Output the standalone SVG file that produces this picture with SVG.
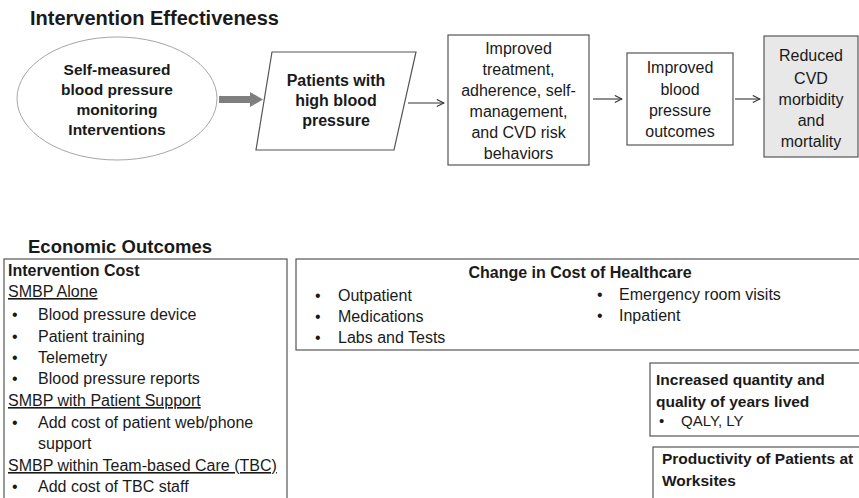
<svg xmlns="http://www.w3.org/2000/svg" width="859" height="498" viewBox="0 0 859 498">
<defs>
<marker id="open" viewBox="0 0 10 10" refX="9" refY="5" markerWidth="9" markerHeight="9" markerUnits="userSpaceOnUse" orient="auto">
<polyline points="1,1 9,5 1,9" fill="none" stroke="#333" stroke-width="1.2"/>
</marker>
</defs>
<style>
text{font-family:"Liberation Sans",Arial,sans-serif;fill:#1a1a1a;font-size:16px}
.b{font-weight:bold}
.c{text-anchor:middle}
.title{font-weight:bold;font-size:20px}
.box{fill:#fff;stroke:#555;stroke-width:1.2}
.conn{stroke:#333;stroke-width:1.1;fill:none}
</style>
<rect width="859" height="498" fill="#fff"/>
<text class="title" x="30" y="25">Intervention Effectiveness</text>
<text class="title" x="28" y="253" style="font-size:18.5px">Economic Outcomes</text>

<g id="connectors">
<polygon points="219,96 250,96 250,92 263,99.5 250,107 250,103 219,103" fill="#7f7f7f"/>
<line class="conn" x1="408" y1="103" x2="444" y2="103" marker-end="url(#open)"/>
<line class="conn" x1="593" y1="99" x2="622" y2="99" marker-end="url(#open)"/>
<line class="conn" x1="735" y1="99" x2="760" y2="99" marker-end="url(#open)"/>
</g>

<g id="smbp">
<ellipse cx="117" cy="98.5" rx="100" ry="61.5" fill="#fff" stroke="#a6a6a6" stroke-width="1"/>
<text class="b c" x="117" y="75" style="font-size:15.5px">Self-measured</text>
<text class="b c" x="117" y="95" style="font-size:15.5px">blood pressure</text>
<text class="b c" x="117" y="115" style="font-size:15.5px">monitoring</text>
<text class="b c" x="117" y="135" style="font-size:15.5px">Interventions</text>
</g>

<g id="patients">
<polygon class="box" points="272,52 416,52 394,150 256,150"/>
<text class="b c" x="336" y="86">Patients with</text>
<text class="b c" x="336" y="106">high blood</text>
<text class="b c" x="336" y="126">pressure</text>
</g>

<g id="improved-treatment">
<rect class="box" x="448" y="35" width="141" height="130"/>
<text class="c" x="518.5" y="54">Improved</text>
<text class="c" x="518.5" y="75">treatment,</text>
<text class="c" x="518.5" y="96">adherence, self-</text>
<text class="c" x="518.5" y="117">management,</text>
<text class="c" x="518.5" y="138">and CVD risk</text>
<text class="c" x="518.5" y="159">behaviors</text>
</g>

<g id="improved-bp">
<rect class="box" x="627" y="53" width="106" height="92"/>
<text class="c" x="680" y="73">Improved</text>
<text class="c" x="680" y="95">blood</text>
<text class="c" x="680" y="116">pressure</text>
<text class="c" x="680" y="137">outcomes</text>
</g>

<g id="reduced-cvd">
<rect x="764" y="36" width="94" height="121" fill="#e8e8e8" stroke="#555" stroke-width="1.2"/>
<text class="c" x="811" y="61">Reduced</text>
<text class="c" x="811" y="84">CVD</text>
<text class="c" x="811" y="105">morbidity</text>
<text class="c" x="811" y="126">and</text>
<text class="c" x="811" y="147">mortality</text>
</g>

<g id="intervention-cost">
<rect class="box" x="4" y="259" width="283" height="245"/>
<text class="b" x="8" y="276">Intervention Cost</text>
<text x="8" y="297" text-decoration="underline">SMBP Alone</text>
<text x="12" y="320">•</text><text x="38" y="320">Blood pressure device</text>
<text x="12" y="342">•</text><text x="38" y="342">Patient training</text>
<text x="12" y="363">•</text><text x="38" y="363">Telemetry</text>
<text x="12" y="384">•</text><text x="38" y="384">Blood pressure reports</text>
<text x="8" y="406" text-decoration="underline">SMBP with Patient Support</text>
<text x="12" y="428">•</text><text x="38" y="428">Add cost of patient web/phone</text>
<text x="38" y="449">support</text>
<text x="8" y="471" text-decoration="underline">SMBP within Team-based Care (TBC)</text>
<text x="12" y="492">•</text><text x="38" y="492">Add cost of TBC staff</text>
</g>

<g id="healthcare-cost">
<rect class="box" x="296" y="259" width="570" height="91"/>
<text class="b c" x="580" y="278">Change in Cost of Healthcare</text>
<text x="315" y="301">•</text><text x="338" y="301">Outpatient</text>
<text x="315" y="322">•</text><text x="338" y="322">Medications</text>
<text x="315" y="343">•</text><text x="338" y="343">Labs and Tests</text>
<text x="597" y="300">•</text><text x="619" y="300">Emergency room visits</text>
<text x="597" y="321">•</text><text x="619" y="321">Inpatient</text>
</g>

<g id="qaly">
<rect class="box" x="650" y="363" width="216" height="73"/>
<text class="b" x="656" y="385" style="font-size:15.5px">Increased quantity and</text>
<text class="b" x="656" y="407" style="font-size:15.5px">quality of years lived</text>
<text x="659" y="426" style="font-size:15px">•</text><text x="681" y="426" style="font-size:15px">QALY, LY</text>
</g>

<g id="productivity">
<rect class="box" x="653" y="447" width="213" height="60"/>
<text class="b" x="662" y="464" style="font-size:15.5px">Productivity of Patients at</text>
<text class="b" x="662" y="486" style="font-size:15.5px">Worksites</text>
</g>
</svg>
